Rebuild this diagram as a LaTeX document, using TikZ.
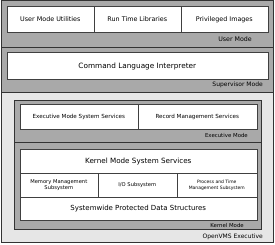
\documentclass[tikz,border=0pt]{standalone}
\usepackage{fontspec}
\setmainfont{DejaVu Sans}
\usetikzlibrary{positioning}
\definecolor{modegray}{HTML}{A9A9A9}
\definecolor{execgray}{HTML}{E6E6E6}
\tikzstyle{region} = [
    rectangle,
    anchor=north west,
    inner sep=0pt,
    draw=black!80,
    line width=0.8pt,
    fill=modegray
]
\tikzstyle{cell} = [
    rectangle,
    anchor=north west,
    inner sep=1pt,
    align=center,
    draw=black!75,
    line width=0.6pt,
    fill=white,
    font=\fontsize{5.6}{6.5}\selectfont
]
\tikzstyle{modelabel} = [
    anchor=east,
    inner sep=0pt,
    font=\fontsize{5.6}{6.5}\selectfont
]

\begin{document}
\begin{tikzpicture}[x=1pt, y=-1pt]

\useasboundingbox[fill=white] (0,0) rectangle (275,245);

% modes
\node (user) [region, minimum width=272pt, minimum height=47pt] at (0.5,0.5) {};
\node (super) [region, minimum width=272pt, minimum height=45pt] at (0.5,47) {};
\node (exec) [region, fill=execgray, minimum width=272pt, minimum height=150pt] at (0.5,92) {};
\node (execmode) [region, minimum width=247pt, minimum height=42pt] at (14,100) {};
\node (kernel) [region, minimum width=247pt, minimum height=87pt] at (14,142) {};

% user mode
\node (utils) [cell, font=\fontsize{6.4}{7}\selectfont, minimum width=87pt, minimum height=26pt] at (6.5,6) {User Mode Utilities};
\node (rtl) [cell, font=\fontsize{6.4}{7}\selectfont, minimum width=87pt, minimum height=26pt] at (93.5,6) {Run Time Libraries};
\node (priv) [cell, font=\fontsize{6.4}{7}\selectfont, minimum width=87pt, minimum height=26pt] at (180.5,6) {Privileged Images};
\node (userlbl) [modelabel, font=\fontsize{6.3}{7}\selectfont] at (252,39) {User Mode};

% supervisor mode
\node (cli) [cell, font=\fontsize{7.3}{8}\selectfont, minimum width=261pt, minimum height=27pt] at (6.5,52.5) {Command Language Interpreter};
\node (superlbl) [modelabel, font=\fontsize{6}{7}\selectfont] at (263,85) {Supervisor Mode};

% executive mode
\node (emss) [cell, minimum width=118pt, minimum height=25pt] at (19.5,104) {Executive Mode System Services};
\node (rms) [cell, minimum width=119pt, minimum height=25pt] at (137.5,104) {Record Management Services};
\node (execlbl) [modelabel, font=\fontsize{5.4}{6}\selectfont] at (248,135) {Executive Mode};

% kernel mode
\node (kmss) [cell, font=\fontsize{7.2}{8}\selectfont, minimum width=237pt, minimum height=24pt] at (19.5,149) {Kernel Mode System Services};
\node (mem) [cell, font=\fontsize{5.2}{6}\selectfont, minimum width=78pt, minimum height=24pt] at (19.5,173) {Memory Management\\Subsystem};
\node (io) [cell, font=\fontsize{5.2}{6}\selectfont, minimum width=79pt, minimum height=24pt] at (97.5,173) {I/O Subsystem};
\node (ptm) [cell, font=\fontsize{4.5}{5.4}\selectfont, minimum width=80pt, minimum height=24pt] at (176.5,173) {Process and Time\\Management Subsystem};
\node (data) [cell, font=\fontsize{7}{8}\selectfont, minimum width=237pt, minimum height=23pt] at (19.5,197) {Systemwide Protected Data Structures};
\node (kernlbl) [modelabel, font=\fontsize{5.4}{6}\selectfont] at (244,225) {Kernel Mode};

\node (vmslbl) [modelabel, font=\fontsize{6}{7}\selectfont] at (263,237) {OpenVMS Executive};

\end{tikzpicture}
\end{document}
